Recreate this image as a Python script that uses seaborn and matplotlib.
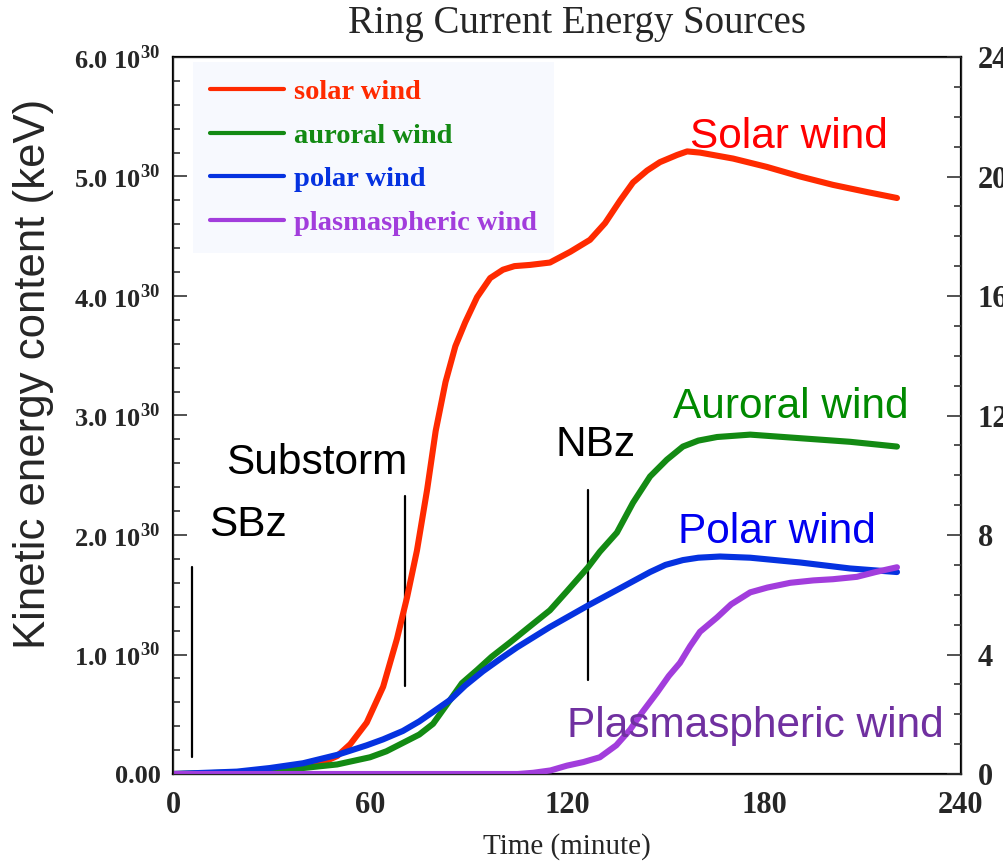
import numpy as np
import pandas as pd
import matplotlib
matplotlib.use("Agg")
import matplotlib.pyplot as plt
from matplotlib.ticker import MultipleLocator, FuncFormatter
from matplotlib.lines import Line2D
import seaborn as sns

# Kinetic energy content (units of 1e30 keV) versus time (minutes)
solar_t = [0, 20, 30, 40, 45, 50, 54, 59, 64, 68.2, 71.3, 74.3, 77.4, 80, 83, 86, 89,
           92.6, 96.6, 100.5, 104, 108.7, 114.8, 121, 127, 131.6, 136.2, 140.1, 144.4,
           148.3, 153.5, 156.6, 160.5, 170.6, 180.9, 191, 201, 211.4, 220.5]
solar_e = [0, 0.0, 0.02, 0.06, 0.09, 0.15, 0.25, 0.43, 0.73, 1.13, 1.48, 1.87, 2.38, 2.87,
           3.28, 3.58, 3.78, 3.99, 4.15, 4.22, 4.25, 4.26, 4.28, 4.37, 4.47, 4.61, 4.80,
           4.95, 5.05, 5.12, 5.18, 5.21, 5.20, 5.15, 5.08, 5.00, 4.93, 4.87, 4.82]

auroral_t = [0, 29.5, 39.6, 50, 60, 65, 70, 75, 79.2, 84.4, 88, 92.6, 97, 102.6, 108, 114.8,
             120, 126.4, 130, 135.2, 140.1, 145.3, 150.4, 155.3, 160, 165.7, 175.8, 191,
             206.2, 220.5]
auroral_e = [0, 0.02, 0.05, 0.08, 0.14, 0.19, 0.26, 0.33, 0.42, 0.62, 0.76, 0.87, 0.98, 1.10,
             1.22, 1.37, 1.53, 1.73, 1.86, 2.02, 2.27, 2.49, 2.63, 2.74, 2.79, 2.82, 2.84,
             2.81, 2.78, 2.74]

polar_t = [0, 19.5, 29.5, 39.6, 50, 59, 64, 70, 75, 79.2, 84.4, 89, 94.4, 99.5, 104.8, 114.8,
           126.4, 135.2, 145.3, 150, 155.3, 160, 166.6, 175.8, 191, 206.2, 220.5]
polar_e = [0, 0.02, 0.05, 0.09, 0.16, 0.24, 0.29, 0.36, 0.44, 0.52, 0.62, 0.74, 0.86, 0.96,
           1.06, 1.23, 1.41, 1.54, 1.69, 1.75, 1.79, 1.81, 1.82, 1.81, 1.77, 1.72, 1.69]

plasma_t = [0, 105, 109.7, 115, 120, 125, 130, 135, 139.2, 143, 147.4, 151, 154.4, 157.5,
            160.5, 165.7, 170, 175.8, 181, 188, 195, 201, 208.3, 214, 220.5]
plasma_e = [0, 0, 0.01, 0.03, 0.07, 0.10, 0.14, 0.24, 0.37, 0.52, 0.68, 0.82, 0.93, 1.07,
            1.19, 1.31, 1.42, 1.52, 1.56, 1.60, 1.62, 1.63, 1.65, 1.69, 1.73]

sources = ["solar wind", "auroral wind", "polar wind", "plasmaspheric wind"]
line_colors = ["#ff2a00", "#138a13", "#0532e0", "#a23ddc"]

# Event markers: time, lower and upper extent (1e30 keV), label and label anchor
event_t = [5.8, 70.7, 126.4]
event_lo = [0.14, 0.74, 0.79]
event_hi = [1.73, 2.33, 2.38]
event_names = ["SBz", "Substorm", "NBz"]
event_label_t = [11.0, 16.1, 116.4]
event_label_e = [1.99, 2.51, 2.66]

# Curve annotations
curve_names = ["Solar wind", "Auroral wind", "Polar wind", "Plasmaspheric wind"]
curve_label_t = [157.5, 152.3, 153.8, 120.0]
curve_label_e = [5.24, 2.98, 1.93, 0.31]
curve_label_colors = ["#ff0000", "#008a00", "#0000f0", "#7030a0"]

frames = []
for name, t, e in zip(sources, [solar_t, auroral_t, polar_t, plasma_t],
                      [solar_e, auroral_e, polar_e, plasma_e]):
    frames.append(pd.DataFrame({"time": t, "energy": e, "source": name}))
df = pd.concat(frames, ignore_index=True)

sns.set_style("white")
plt.rcParams["font.family"] = ["Liberation Serif", "DejaVu Serif"]
plt.rcParams["mathtext.fontset"] = "custom"
plt.rcParams["mathtext.rm"] = "Liberation Serif"
plt.rcParams["mathtext.bf"] = "Liberation Serif:bold"

fig = plt.figure(figsize=(10.04, 8.63), dpi=100)
ax = fig.add_axes([173 / 1004, 1 - 774 / 863, 788 / 1004, 717 / 863])

sns.lineplot(data=df, x="time", y="energy", hue="source", hue_order=sources,
             palette=line_colors, linewidth=4.4, sort=False, estimator=None,
             legend=False, ax=ax, zorder=3)

for t, lo, hi in zip(event_t, event_lo, event_hi):
    ax.plot([t, t], [lo, hi], color="black", lw=1.6, zorder=2)

sans = "Liberation Sans"
for name, t, e in zip(event_names, event_label_t, event_label_e):
    ax.text(t, e, name, fontfamily=sans, fontsize=30.5, color="black",
            ha="left", va="baseline", zorder=4)

for name, t, e, c in zip(curve_names, curve_label_t, curve_label_e, curve_label_colors):
    ax.text(t, e, name, fontfamily=sans, fontsize=30.5, color=c,
            ha="left", va="baseline", zorder=5)

ax.set_xlim(0, 240)
ax.set_ylim(0, 6)
ax.xaxis.set_major_locator(MultipleLocator(60))
ax.xaxis.set_minor_locator(MultipleLocator(10))
ax.yaxis.set_major_locator(MultipleLocator(1))
ax.yaxis.set_minor_locator(MultipleLocator(0.2))


def energy_fmt(v, pos):
    if abs(v) < 1e-9:
        return "0.00"
    return "%.1f 10$^{\\mathbf{30}}$" % v


ax.yaxis.set_major_formatter(FuncFormatter(energy_fmt))
ax.tick_params(which="both", direction="in", top=False, right=False,
               color="#333333", width=1.2)
ax.tick_params(which="major", length=10)
ax.tick_params(which="minor", length=5)
ax.tick_params(axis="y", labelsize=19, pad=9)
ax.tick_params(axis="x", labelsize=22, pad=12)
for lab in ax.get_yticklabels() + ax.get_xticklabels():
    lab.set_fontweight("bold")

ax.set_xlabel("Time (minute)", fontsize=21, labelpad=10)
ax.set_ylabel("Kinetic energy content (keV)", fontfamily=sans, fontsize=31.5)
ax.yaxis.set_label_coords(-0.151, 0.558)
for sp in ax.spines.values():
    sp.set_linewidth(1.6)
    sp.set_color("black")

# Secondary scale on the right
ax2 = ax.twinx()
ax2.set_ylim(0, 24)
ax2.yaxis.set_major_locator(MultipleLocator(4))
ax2.yaxis.set_minor_locator(MultipleLocator(1))
ax2.tick_params(which="both", direction="in", color="#333333", width=1.2,
                labelsize=22, pad=12)
ax2.tick_params(which="major", length=10)
ax2.tick_params(which="minor", length=5)
for lab in ax2.get_yticklabels():
    lab.set_fontweight("bold")
ax2.grid(False)
ax.grid(False)

handles = [Line2D([0], [0], color=c, lw=3) for c in line_colors]
leg = ax.legend(handles, sources, loc="upper left",
                bbox_to_anchor=(193 / 1004, 1 - 62 / 863),
                bbox_transform=fig.transFigure, borderaxespad=0,
                prop={"family": "Liberation Serif", "size": 20.5, "weight": "bold"},
                labelcolor=line_colors, handlelength=2.6, handletextpad=0.35,
                labelspacing=0.62, borderpad=0.6, frameon=True, fancybox=False)
leg.get_frame().set_facecolor("#f7f9fe")
leg.get_frame().set_edgecolor("none")
leg.get_frame().set_alpha(1)
leg.set_zorder(6)

fig.text(577 / 1004, 1 - 24 / 863, "Ring Current Energy Sources", fontsize=28,
         ha="center", va="center")

fig.savefig("out.png", dpi=100)
